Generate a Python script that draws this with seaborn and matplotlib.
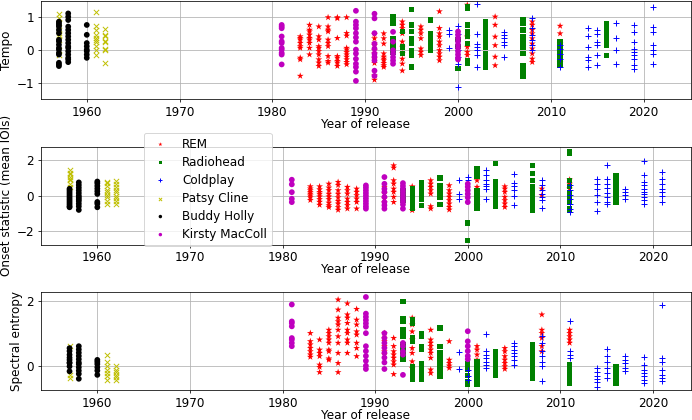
import matplotlib
matplotlib.use("Agg")
import matplotlib.pyplot as plt
import seaborn as sns
import pandas as pd

plt.rcParams["font.size"] = 12.5

artists = ["REM", "Radiohead", "Coldplay", "Patsy Cline", "Buddy Holly", "Kirsty MacColl"]
colors = ["r", "g", "b", "y", "k", "m"]
markers = ["*", "s", "+", "x", "o", "o"]
features = ["Tempo", "Onset statistic (mean IOIs)", "Spectral entropy"]

# ---- tempo (standardised), album year -> song values
rem_tempo = {
    1983: [0.4, 0.35, 0.3, 0.2, 0.1, 0.05, -0.25, -0.3, -0.8],
    1984: [0.75, 0.6, 0.55, 0.45, 0.35, 0.3, 0.2, 0.05, -0.15],
    1985: [0.7, 0.4, 0.3, 0.1, 0.05, -0.05, -0.15, -0.3, -0.4, -0.5],
    1986: [0.98, 0.7, 0.6, 0.55, 0.3, 0.2, 0.1, -0.2, -0.35, -0.4],
    1987: [0.98, 0.95, 0.35, -0.2, -0.25, -0.35, -0.4, -0.5],
    1988: [0.98, 0.5, 0.42, 0.05, 0.0, -0.08, -0.15, -0.22, -0.3, -0.38, -0.45],
    1991: [0.47, 0.34, 0.18, 0.13, -0.02, -0.12, -0.28, -0.41, -0.79, -0.92],
    1992: [0.49, 0.34, 0.18, -0.12, -0.22, -0.28, -0.33, -0.41, -0.48, -0.53],
    1994: [0.85, 0.75, 0.65, 0.49, 0.24, 0.08, -0.12, -0.28, -0.43, -0.64],
    1996: [0.7, 0.6, 0.49, 0.34, 0.03, -0.07, -0.17],
    1998: [1.16, 0.65, 0.49, 0.39, 0.24, 0.13, -0.02, -0.12, -0.22, -0.33],
    2001: [1.36, 0.39, 0.08, -0.07, -0.17],
    2004: [1.0, 0.75, 0.39, 0.13, -0.22, -0.48],
    2008: [0.85, 0.75, 0.6, 0.49, 0.34, 0.18, 0.03, -0.12, -0.28, -0.38],
    2011: [0.72, 0.49, 0.18, -0.02, -0.17, -0.38],
}
radiohead_tempo = {
    1993: [1.0, 0.9, 0.8, 0.34, 0.18, 0.03, -0.07],
    1994: [0.54, 0.08, -0.12],
    1995: [1.21, 0.75, 0.54, 0.34, 0.18, -0.02, -0.17, -0.53],
    1997: [0.9, 0.49, 0.39, 0.29, 0.18, 0.08, -0.02],
    2000: [0.3, 0.1, -0.58],
    2001: [1.31, 1.26, 0.75, 0.54, 0.39, 0.18, -0.33, -0.43],
    2003: [0.85, 0.7, 0.54, 0.39, 0.24, 0.08, -0.12, -0.28, -0.43, -0.53],
    2007: [0.9, 0.8, 0.6, 0.39, 0.24, 0.08, -0.12, -0.48, -0.64, -0.8],
    2011: [0.24, 0.08, -0.07, -0.23, -0.38, -0.48],
    2016: [0.8, 0.7, 0.54, 0.44, 0.29, 0.13, -0.17],
}
coldplay_tempo = {
    1999: [0.6, 0.49, 0.05],
    2000: [0.72, 0.49, -0.02, -0.22, -0.43, -1.13],
    2002: [1.38, 0.49, 0.18, 0.08, -0.02, -0.17, -0.53],
    2005: [0.54, 0.44, 0.34, 0.24, 0.13, -0.22],
    2008: [0.95, 0.65, 0.44, 0.29, 0.13, -0.02],
    2011: [0.13, 0.03, -0.12, -0.28, -0.53],
    2014: [0.65, 0.41, 0.08, -0.22, -0.33, -0.53],
    2015: [0.6, 0.49, 0.24, 0.13, -0.17, -0.48],
    2017: [0.8, 0.34, -0.02, -0.45],
    2019: [0.75, 0.54, 0.24, 0.03, -0.07, -0.17, -0.28, -0.48, -0.58],
    2021: [1.31, 0.7, 0.54, 0.13, -0.02, -0.12, -0.43],
}
patsy_tempo = {
    1957: [1.08, 0.95, 0.8, 0.6, 0.5, 0.45, 0.3, 0.0, -0.15],
    1961: [1.13, 0.72, 0.6, 0.45, 0.35, 0.3, 0.22, 0.1, 0.0, -0.15],
    1962: [0.62, 0.45, 0.42, 0.25, 0.22, 0.02, -0.02, -0.4],
}
buddy_tempo = {
    1957: [0.85, 0.8, 0.75, 0.7, 0.6, 0.5, 0.3, 0.25, 0.15, 0.05, 0.0,
           -0.1, -0.15, -0.4, -0.45, -0.5],
    1958: [1.1, 1.0, 0.9, 0.7, 0.6, 0.5, 0.4, 0.3, 0.2, 0.1, 0.05,
           -0.05, -0.15, -0.25, -0.3, -0.38],
    1960: [0.75, 0.45, 0.2, 0.1, 0.0, -0.05, -0.15, -0.25],
}
kirsty_tempo = {
    1981: [0.75, 0.7, 0.65, 0.4, 0.25, 0.2, 0.05, 0.0, -0.1, -0.15, -0.45],
    1989: [1.18, 0.85, 0.75, 0.65, 0.5, 0.37, 0.24, 0.0, -0.12, -0.28, -0.43, -0.53, -0.67, -0.95],
    1991: [1.09, 0.95, 0.5, 0.18, 0.03, -0.12, -0.22, -0.33, -0.64, -0.8],
    1993: [0.54, 0.24, -0.02, -0.12, -0.23, -0.33, -0.43],
    2000: [0.55, 0.45, 0.35, 0.25, 0.15, 0.05, -0.05, -0.15, -0.25, -0.3],
}

# ---- onset statistic (mean IOIs)
rem_onset = {
    1983: [0.52, 0.4, 0.3, 0.2, 0.1, 0.0, -0.1, -0.25],
    1984: [0.52, 0.35, 0.2, 0.1, -0.05, -0.2, -0.35, -0.52],
    1985: [0.67, 0.45, 0.3, 0.1, -0.05, -0.2, -0.4, -0.55, -0.65],
    1986: [0.77, 0.6, 0.3, 0.1, -0.1, -0.3, -0.45, -0.65, -0.8],
    1987: [0.49, 0.3, 0.11, -0.17, -0.36, -0.54, -0.73],
    1988: [0.39, 0.21, 0.02, -0.17, -0.36, -0.73],
    1991: [0.49, 0.11, -0.17, -0.36],
    1992: [1.7, 1.57, 0.86, 0.67, 0.39, 0.21, -0.07, -0.36],
    1994: [0.52, -0.82],
    1996: [0.86, 0.67, 0.49, 0.3, 0.11, -0.6, -0.73],
    1998: [0.58, 0.3, 0.11, -0.07, -0.26, -0.45, -0.64, -0.79],
    2001: [0.86, 0.49, -0.07, -0.54],
    2004: [0.52, 0.39, 0.21, -0.07, -0.26, -0.45, -0.64],
    2008: [0.39, 0.02],
    2011: [0.9, 0.67, 0.39],
}
radiohead_onset = {
    1993: [0.3, 0.02, -0.26],
    1994: [0.39, 0.21, 0.02, -0.17, -0.36, -0.54, -0.73],
    1995: [0.71, 0.55, 0.4, 0.25, 0.1, -0.05, -0.2, -0.54],
    1997: [0.99, 0.58, 0.39, 0.21, -0.07, -0.49],
    2000: [-1.53, -2.5],
    2001: [1.51, 1.3, 1.1, 0.3, 0.1, -0.1, -0.3, -0.54, -0.73],
    2003: [1.83, 0.77, 0.49, 0.21, -0.07, -0.36, -0.6],
    2007: [1.7, 1.23, 0.86, 0.49, 0.21, -0.07, -0.36, -0.54, -0.82],
    2011: [2.5, 2.39, 0.86, 0.5, 0.2, -0.1, -0.4, -0.7, -0.8],
    2016: [1.14, 0.9, 0.6, 0.35, 0.1, -0.1, -0.36],
}
coldplay_onset = {
    1999: [0.86, 0.11, -0.17],
    2000: [1.08, 0.86],
    2002: [1.42, 1.14, 0.86, 0.67, 0.52, 0.39, -0.17],
    2005: [1.2, 0.71, 0.52, 0.34, -0.04, -0.54],
    2008: [0.86, 0.58, 0.3, 0.11, -0.07, -0.26, -0.67],
    2011: [0.58, 0.3, 0.05, -0.2, -0.45, -0.75, -0.9],
    2014: [0.95, 0.67, 0.39, 0.02, -0.36, -0.86],
    2015: [1.74, 0.95, 0.67, 0.45, 0.15, -0.07, -0.36, -0.45],
    2017: [0.39, 0.21, 0.02, -0.17],
    2019: [1.94, 1.14, 0.77, 0.58, 0.39, 0.21, 0.11, -0.07, -0.26, -0.45],
    2021: [1.33, 0.95, 0.67, 0.39, 0.21, -0.04, -0.36],
}
patsy_onset = {
    1957: [1.42, 1.3, 1.23, 1.05, 0.95, 0.86, 0.67, 0.49],
    1961: [0.8, 0.7, 0.55, 0.35, 0.2, 0.05, -0.1, -0.3, -0.45],
    1962: [0.85, 0.65, 0.5, 0.35, 0.2, 0.0, -0.15, -0.3, -0.45],
}
buddy_onset = {
    1957: [0.39, 0.3, 0.2, 0.1, 0.0, -0.1, -0.2, -0.3, -0.4, -0.5, -0.6, -0.65],
    1958: [0.75, 0.6, 0.45, 0.3, 0.15, 0.0, -0.1, -0.2, -0.3, -0.45, -0.6, -0.8],
    1960: [0.8, 0.7, 0.55, 0.4, 0.25, 0.1, -0.35, -0.45, -0.65],
}
kirsty_onset = {
    1981: [0.9, 0.64, 0.2, -0.17, -0.36],
    1989: [0.58, 0.45, 0.3, 0.15, 0.0, -0.15, -0.3, -0.45, -0.6, -0.73],
    1991: [1.05, 0.67, 0.39, 0.21, -0.07, -0.36, -0.54, -0.73],
    1993: [0.71, 0.55, 0.4, 0.25, 0.1, -0.05, -0.2, -0.35, -0.5, -0.73],
    2000: [0.67, 0.5, 0.3, 0.1, -0.1, -0.36],
}

# ---- spectral entropy
rem_entropy = {
    1983: [1.0, 0.75, 0.65, 0.54, 0.44, 0.34, 0.27],
    1984: [0.8, 0.49, 0.39, 0.29, 0.03, -0.04, -0.2],
    1985: [1.1, 1.0, 0.9, 0.8, 0.7, 0.49, 0.44, 0.22, 0.18],
    1986: [2.03, 1.72, 1.47, 1.36, 1.26, 1.1, 0.9, 0.7, 0.39, 0.08, -0.2],
    1987: [1.91, 1.57, 1.47, 1.31, 1.1, 1.0, 0.8, 0.7, 0.39],
    1988: [1.74, 1.41, 1.26, 1.05, 0.95, 0.7, 0.54, 0.29],
    1991: [1.0, 0.85, 0.75, 0.6, 0.44, 0.34],
    1992: [0.85, 0.6, 0.44, 0.34, 0.24, 0.13, 0.03, -0.26],
    1994: [1.47, 1.26, 1.05, 0.8, 0.54, 0.39, 0.13, -0.07],
    1996: [1.1, 0.8, 0.7, 0.6, 0.49, 0.39, 0.24, -0.12, -0.23],
    1998: [0.75, 0.18, 0.08, 0.0, -0.07],
    2001: [0.6, 0.49, 0.34, 0.18],
    2004: [0.54, 0.44, 0.29, 0.18, 0.08, -0.02, -0.1],
    2008: [1.57, 1.1, 1.0, 0.85, 0.6, 0.44],
    2011: [1.1, 1.0, 0.9, 0.8, 0.7],
}
radiohead_entropy = {
    1993: [1.97, 1.45, 1.35, 1.1, 1.0, 0.9, 0.65, 0.5, 0.35, 0.2],
    1994: [1.41, 1.31, 0.85, 0.75, -0.02, -0.17, -0.33, -0.43],
    1995: [1.0, 0.9, 0.6, 0.49, 0.08, -0.02, -0.17, -0.28, -0.43],
    1997: [1.16, 0.6, 0.39, 0.29, 0.13, -0.02, -0.17, -0.33],
    2000: [0.08, -0.1, -0.3, -0.5, -0.58],
    2001: [0.13, 0.0, -0.15, -0.3, -0.45, -0.58],
    2003: [0.44, 0.3, 0.15, 0.0, -0.15, -0.3],
    2007: [0.65, 0.5, 0.35, 0.2, 0.05, -0.1, -0.25, -0.4],
    2011: [0.03, -0.1, -0.25, -0.4, -0.53],
    2016: [-0.02, -0.15, -0.3, -0.45, -0.53],
}
coldplay_entropy = {
    1999: [0.41, -0.1],
    2000: [-0.12, -0.3, -0.43],
    2002: [0.97, 0.44, 0.34, 0.24, 0.13, 0.03, -0.07],
    2005: [0.7, 0.6, 0.49, 0.39, 0.29, 0.18, 0.03],
    2008: [0.9, 0.7, 0.44, 0.29, 0.13, -0.02, -0.46],
    2011: [1.36, 0.44, 0.34, 0.24],
    2014: [-0.07, -0.2, -0.3, -0.4, -0.5, -0.64],
    2015: [0.51, 0.29, 0.13, -0.07, -0.23, -0.38],
    2017: [0.31, 0.18, 0.08, -0.07, -0.17],
    2019: [0.27, 0.03, -0.12, -0.23, -0.33, -0.43, -0.53],
    2021: [1.85, 0.24, 0.13, -0.12, -0.28, -0.38, -0.48],
}
patsy_entropy = {
    1957: [0.6, -0.28, -0.38],
    1961: [0.34, 0.13, -0.02, -0.12, -0.23, -0.33, -0.43],
    1962: [-0.02, -0.12, -0.2, -0.28, -0.35, -0.43],
}
buddy_entropy = {
    1957: [0.54, 0.45, 0.34, 0.25, 0.18, 0.1, 0.08, -0.02, -0.17],
    1958: [0.6, 0.5, 0.4, 0.3, 0.2, 0.1, 0.05, -0.05, -0.15, -0.25, -0.4],
    1960: [0.18, 0.12, 0.05, -0.05, -0.15, -0.28],
}
kirsty_entropy = {
    1981: [1.88, 1.36, 1.31, 1.21, 0.85, 0.8, 0.7, 0.6],
    1989: [2.11, 1.6, 1.5, 1.4, 1.3, 1.2, 1.0, 0.6, 0.45, 0.3, 0.15, 0.0, -0.1],
    1991: [1.0, 0.85, 0.7, 0.55, 0.4, 0.25, 0.1, -0.1],
    1993: [0.7, 0.6, 0.44, 0.34, -0.28],
    2000: [1.06, 0.75, 0.6, 0.45, 0.3, 0.2],
}

tables = {
    features[0]: [rem_tempo, radiohead_tempo, coldplay_tempo, patsy_tempo, buddy_tempo, kirsty_tempo],
    features[1]: [rem_onset, radiohead_onset, coldplay_onset, patsy_onset, buddy_onset, kirsty_onset],
    features[2]: [rem_entropy, radiohead_entropy, coldplay_entropy, patsy_entropy, buddy_entropy, kirsty_entropy],
}

rows = []
for feat, per_artist in tables.items():
    for artist, d in zip(artists, per_artist):
        for year, vals in d.items():
            for v in vals:
                rows.append((feat, artist, year, v))
df = pd.DataFrame(rows, columns=["feature", "artist", "year", "value"])

sizes = {"*": 55, "s": 30, "+": 40, "x": 30, "o": 36}

DPI = 69.2
fig, axes = plt.subplots(3, 1, figsize=(692 / DPI, 420 / DPI))
plt.subplots_adjust(left=0.059, right=0.9985, top=0.997, bottom=0.071, hspace=0.49)

for ax, feat in zip(axes, features):
    sub = df[df.feature == feat]
    for artist, c, m in zip(artists, colors, markers):
        d = sub[sub.artist == artist]
        filled = m not in ("+", "x")
        sns.scatterplot(x=d.year, y=d.value, color=c, marker=m, s=sizes[m],
                        linewidth=0 if filled else 1.0,
                        edgecolor=c if not filled else "none",
                        label=artist, legend=False, ax=ax)
    ax.grid(True)
    ax.set_axisbelow(True)
    ax.set_xlabel("Year of release", labelpad=-1)
    ax.set_ylabel(feat)
    if ax.get_legend() is not None:
        ax.get_legend().remove()

axes[0].set_xlim(1955.05, 2025.1)
axes[1].set_xlim(1953.9, 2024.1)
axes[2].set_xlim(1953.9, 2024.1)
axes[0].set_ylim(-1.5, 1.47)
axes[1].set_ylim(-2.75, 2.75)
axes[2].set_ylim(-0.75, 2.25)
axes[0].set_yticks([-1, 0, 1])
axes[1].set_yticks([-2, 0, 2])
axes[2].set_yticks([0, 2])

axes[1].legend(loc="lower left", bbox_to_anchor=(0.158, -0.01), borderaxespad=0,
               labelspacing=0.42, markerscale=0.6)

plt.savefig("out.png", dpi=DPI)
